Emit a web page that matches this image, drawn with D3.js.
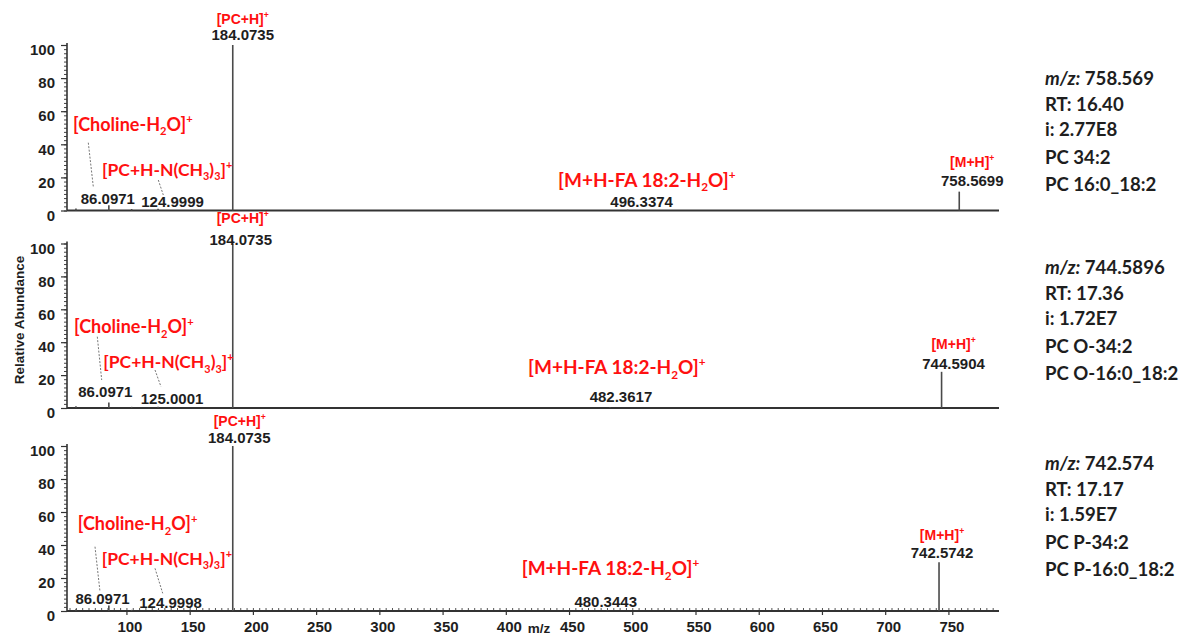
<!DOCTYPE html>
<html>
<head>
<meta charset="utf-8">
<script src="https://cdn.jsdelivr.net/npm/d3@7"></script>
<style>
  html, body { margin: 0; padding: 0; background: #fff; }
  svg { display: block; }
</style>
</head>
<body>
<svg id="chart" width="1185" height="637"></svg>
<script>
// MS/MS peaks: m/z and relative abundance (%) for each precursor
const mzA = [60.08, 86.0971, 104.107, 124.9999, 184.0735, 496.3374, 758.5699];
const abA = [1.2, 3.2, 0.9, 1.0, 100, 0.5, 11.4];
const mzB = [60.08, 86.0971, 104.107, 125.0001, 184.0735, 482.3617, 744.5904];
const abB = [1.0, 3.4, 0.7, 0.8, 100, 0.4, 22.0];
const mzC = [60.08, 86.0971, 104.107, 124.9998, 184.0735, 480.3443, 742.5742];
const abC = [1.0, 3.4, 0.7, 0.8, 100, 0.4, 29.5];

// Precursor information shown to the right of each spectrum
const precursorMz = ["758.569", "744.5896", "742.574"];
const retentionTimes = ["16.40", "17.36", "17.17"];
const intensities = ["2.77E8", "1.72E7", "1.59E7"];
const sumSpecies = ["PC 34:2", "PC O-34:2", "PC P-34:2"];
const chainSpecies = ["PC 16:0_18:2", "PC O-16:0_18:2", "PC P-16:0_18:2"];

// Axis ticks
const xTicks = [100, 150, 200, 250, 300, 350, 400, 450, 500, 550, 600, 650, 700, 750];
const yTicks = [0, 20, 40, 60, 80, 100];

// Fragment ion names (sub/superscript parts)
const ionPCH = [{t: "[PC+H]"}, {t: "+", s: "sup"}];
const ionMH = [{t: "[M+H]"}, {t: "+", s: "sup"}];
const ionCholine = [{t: "[Choline-H"}, {t: "2", s: "sub"}, {t: "O]"}, {t: "+", s: "sup"}];
const ionTMA = [{t: "[PC+H-N(CH"}, {t: "3", s: "sub"}, {t: ")"}, {t: "3", s: "sub"}, {t: "]"}, {t: "+", s: "sup"}];
const ionFA = [{t: "[M+H-FA 18:2-H"}, {t: "2", s: "sub"}, {t: "O]"}, {t: "+", s: "sup"}];

// Index of each annotated peak inside the peak arrays
const iCholine = 1, iTMA = 3, iPCH = 4, iFA = 5, iMH = 6;

const ARIAL = "'Liberation Sans', Arial, sans-serif";
const CAL = "Lato, 'Open Sans', sans-serif";
const RED = "#ff1010";

// Panel placement and annotation offsets (pixels, relative to each panel's baseline)
const panels = [
  { mz: mzA, ab: abA, base: 210.5, top: 45, info: 85,
    pch: [10, -186.5], pchNum: [10, -170.5], mh: [13, -43.5], mhNum: [13, -24.5],
    choline: [73, -80], tma: [102, -34.5], fa: [558, -23.8],
    n86: [-1, -6.5], n125: [14.5, -4], nFA: [14, -4],
    lead1: [[88.3, -67.8], [93.3, -23.8]], lead2: [[158.3, -30.5], [163.3, -15.5]] },
  { mz: mzB, ab: abB, base: 408, top: 243.5, info: 274,
    pch: [10, -185], pchNum: [8, -163], mh: [12, -59.5], mhNum: [12, -38.7],
    choline: [74, -74.7], tma: [103.3, -39.7], fa: [528, -34],
    n86: [-3.5, -11.3], n125: [14, -4], nFA: [11, -6],
    lead1: [[97.3, -71.3], [101.7, -28]], lead2: [[155, -38], [161, -21.3]] },
  { mz: mzC, ab: abC, base: 611, top: 446, info: 470,
    pch: [7, -185.3], pchNum: [6.5, -167.7], mh: [3, -71], mhNum: [3, -53],
    choline: [77.7, -81], tma: [101.7, -46], fa: [521.7, -36],
    n86: [-6.3, -7], n125: [12.5, -2.7], nFA: [-1.7, -4.3],
    lead1: [[95, -64.3], [100, -19.3]], lead2: [[155, -42.7], [162.7, -17.7]] }
];

const svg = d3.select("#chart");
svg.append("rect").attr("width", 1185).attr("height", 637).attr("fill", "#fff");

const x = d3.scaleLinear().domain([53, 790]).range([67, 999]);
const fmt4 = d3.format(".4f");

// Writes text made of plain, subscript and superscript pieces
function rich(textSel, parts, size) {
  let shift = 0;
  parts.forEach(p => {
    const target = p.s === "sub" ? size * 0.25 : p.s === "sup" ? -size * 0.4 : 0;
    const ts = textSel.append("tspan").attr("dy", target - shift).text(p.t);
    if (p.s) ts.attr("font-size", size * 0.62);
    shift = target;
  });
  return textSel;
}

function ionLabel(g, parts, xp, yp, size, anchor, family, weight) {
  const t = g.append("text")
    .attr("x", xp).attr("y", yp)
    .attr("text-anchor", anchor)
    .attr("font-family", family)
    .attr("font-weight", weight)
    .attr("font-size", size)
    .attr("fill", RED);
  return rich(t, parts, size);
}

function numLabel(g, value, xp, yp) {
  g.append("text")
    .attr("x", xp).attr("y", yp)
    .attr("text-anchor", "middle")
    .attr("font-family", ARIAL)
    .attr("font-weight", "bold")
    .attr("font-size", 15)
    .attr("fill", "#1e1e1e")
    .text(fmt4(value));
}

panels.forEach((p, k) => {
  const y = d3.scaleLinear().domain([0, 100]).range([p.base, p.top]);
  const g = svg.append("g");
  const isLast = k === panels.length - 1;

  // Minor y ticks
  g.append("g")
    .attr("transform", `translate(${x.range()[0]},0)`)
    .call(d3.axisLeft(y).tickValues(d3.range(0, 100.1, 2.5)).tickSize(3).tickFormat(""))
    .call(s => s.select(".domain").remove())
    .call(s => s.selectAll("line").attr("stroke", "#444").attr("stroke-width", 1));

  // Major y ticks with labels
  g.append("g")
    .attr("transform", `translate(${x.range()[0]},0)`)
    .call(d3.axisLeft(y).tickValues(yTicks).tickSize(6).tickPadding(6).tickFormat(d3.format("d")))
    .call(s => s.select(".domain").remove())
    .call(s => s.selectAll("line").attr("stroke", "#333").attr("stroke-width", 1.2))
    .call(s => s.selectAll("text")
      .attr("font-family", ARIAL).attr("font-weight", "bold")
      .attr("font-size", 15).attr("fill", "#1e1e1e").attr("dy", "0.65em"));

  // Y axis line
  g.append("line")
    .attr("x1", x.range()[0]).attr("x2", x.range()[0])
    .attr("y1", p.base).attr("y2", p.top - 2)
    .attr("stroke", "#333").attr("stroke-width", 1.6);

  // X axis ticks on the bottom spectrum only
  if (isLast) {
    g.append("g")
      .attr("transform", `translate(0,${p.base})`)
      .call(d3.axisBottom(x).tickValues(d3.range(55, 790, 5)).tickSize(-3).tickFormat(""))
      .call(s => s.select(".domain").remove())
      .call(s => s.selectAll("line").attr("stroke", "#555").attr("stroke-width", 1));
    g.append("g")
      .attr("transform", `translate(0,${p.base})`)
      .call(d3.axisBottom(x).tickValues(xTicks).tickSize(4).tickPadding(6).tickFormat(d3.format("d")))
      .call(s => s.select(".domain").remove())
      .call(s => s.selectAll("line").attr("stroke", "#333").attr("stroke-width", 1.2))
      .call(s => s.selectAll("text")
        .attr("font-family", ARIAL).attr("font-weight", "bold")
        .attr("font-size", 15).attr("fill", "#1e1e1e").attr("dx", 3));
  }

  // X axis line
  g.append("line")
    .attr("x1", x.range()[0]).attr("x2", x.range()[1])
    .attr("y1", p.base).attr("y2", p.base)
    .attr("stroke", "#333").attr("stroke-width", 2);

  // Peaks (sticks)
  g.append("g").selectAll("line")
    .data(p.mz.map((m, i) => ({m, a: p.ab[i]})))
    .join("line")
    .attr("x1", d => x(d.m)).attr("x2", d => x(d.m))
    .attr("y1", y(0)).attr("y2", d => y(d.a))
    .attr("stroke", "#4a4a4a").attr("stroke-width", 1.6);

  // Dashed leader lines from fragment names to their m/z labels
  [p.lead1, p.lead2].forEach(L => {
    g.append("line")
      .attr("x1", L[0][0]).attr("y1", p.base + L[0][1])
      .attr("x2", L[1][0]).attr("y2", p.base + L[1][1])
      .attr("stroke", "#777").attr("stroke-width", 1)
      .attr("stroke-dasharray", "2,1.5");
  });

  // m/z labels
  const xm = i => x(p.mz[i]);
  numLabel(g, p.mz[iPCH], xm(iPCH) + p.pchNum[0], p.base + p.pchNum[1]);
  numLabel(g, p.mz[iMH], xm(iMH) + p.mhNum[0], p.base + p.mhNum[1]);
  numLabel(g, p.mz[iCholine], xm(iCholine) + p.n86[0], p.base + p.n86[1]);
  numLabel(g, p.mz[iTMA], xm(iTMA) + p.n125[0], p.base + p.n125[1]);
  numLabel(g, p.mz[iFA], xm(iFA) + p.nFA[0], p.base + p.nFA[1]);

  // Fragment names
  ionLabel(g, ionPCH, xm(iPCH) + p.pch[0], p.base + p.pch[1], 14, "middle", ARIAL, "bold");
  ionLabel(g, ionMH, xm(iMH) + p.mh[0], p.base + p.mh[1], 14, "middle", ARIAL, "bold");
  ionLabel(g, ionCholine, p.choline[0], p.base + p.choline[1], 18, "start", CAL, "bold");
  ionLabel(g, ionTMA, p.tma[0], p.base + p.tma[1], 17.5, "start", CAL, "bold");
  ionLabel(g, ionFA, p.fa[0], p.base + p.fa[1], 19, "start", CAL, "bold");

  // Precursor information block
  const info = svg.append("g")
    .attr("font-family", CAL).attr("font-weight", "bold")
    .attr("font-size", 18.6).attr("fill", "#1e1e1e");
  const lines = [0, 26, 51, 79, 106].map(d => p.info + d);
  const t0 = info.append("text").attr("x", 1045).attr("y", lines[0]);
  t0.append("tspan").attr("font-style", "italic").text("m/z:");
  t0.append("tspan").text(" " + precursorMz[k]);
  info.append("text").attr("x", 1045).attr("y", lines[1]).text("RT: " + retentionTimes[k]);
  info.append("text").attr("x", 1045).attr("y", lines[2]).text("i: " + intensities[k]);
  info.append("text").attr("x", 1045).attr("y", lines[3]).text(sumSpecies[k]);
  info.append("text").attr("x", 1045).attr("y", lines[4]).text(chainSpecies[k]);
});

// Axis titles
svg.append("text")
  .attr("transform", "translate(24,320) rotate(-90)")
  .attr("text-anchor", "middle")
  .attr("font-family", ARIAL).attr("font-weight", "bold")
  .attr("font-size", 13.5).attr("fill", "#1e1e1e")
  .text("Relative Abundance");

svg.append("text")
  .attr("x", 539).attr("y", 633)
  .attr("text-anchor", "middle")
  .attr("font-family", ARIAL).attr("font-weight", "bold")
  .attr("font-size", 13.5).attr("fill", "#1e1e1e")
  .text("m/z");
</script>
</body>
</html>
